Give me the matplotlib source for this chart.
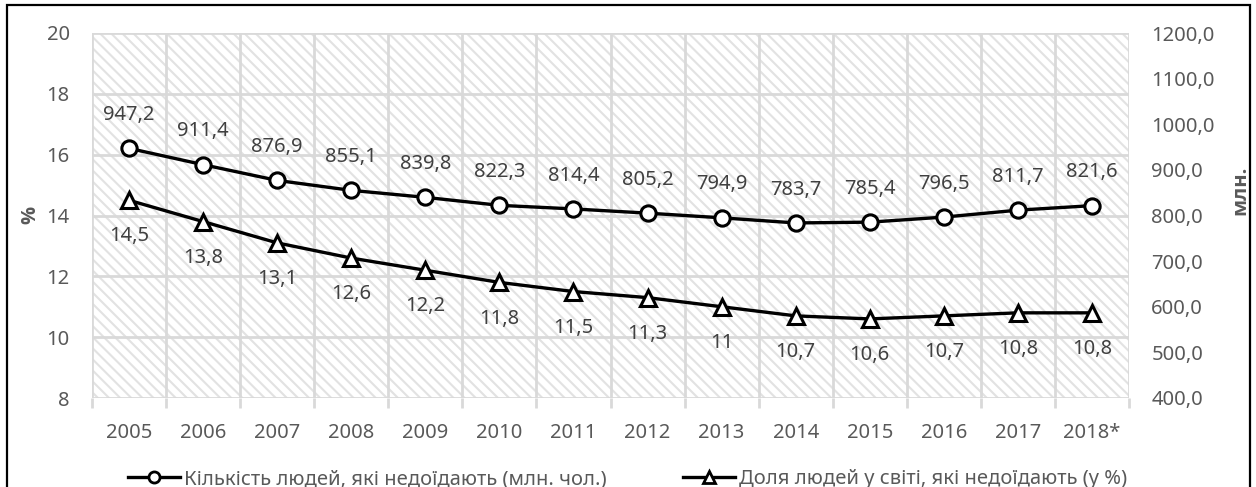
import matplotlib.pyplot as plt
from matplotlib.patches import Rectangle
from matplotlib.lines import Line2D

plt.rcParams['font.family'] = ['Noto Sans', 'DejaVu Sans']

# Data
years = ['2005', '2006', '2007', '2008', '2009', '2010', '2011',
         '2012', '2013', '2014', '2015', '2016', '2017', '2018*']
people_mln = [947.2, 911.4, 876.9, 855.1, 839.8, 822.3, 814.4,
              805.2, 794.9, 783.7, 785.4, 796.5, 811.7, 821.6]
share_pct = [14.5, 13.8, 13.1, 12.6, 12.2, 11.8, 11.5,
             11.3, 11.0, 10.7, 10.6, 10.7, 10.8, 10.8]
pct_ticks = [8, 10, 12, 14, 16, 18, 20]
mln_ticks = [400, 500, 600, 700, 800, 900, 1000, 1100, 1200]
label_people = 'Кількість людей, які недоїдають (млн. чол.)'
label_share = 'Доля людей у світі, які недоїдають (у %)'

W, H = 1256, 487
text_col = '#595959'
grid_col = '#d9d9d9'
fs = 14.5

fig = plt.figure(figsize=(W / 100, H / 100), dpi=100)
ax = fig.add_axes([92 / W, 1 - 398 / H, (1129 - 92) / W, (398 - 33) / H])
ax2 = ax.twinx()

x = list(range(len(years)))

# hatched background
plt.rcParams['hatch.linewidth'] = 1.5
bg = Rectangle((0, 0), 1, 1, transform=ax.transAxes, facecolor='white',
               edgecolor='#e2e2e2', hatch='\\\\\\', linewidth=0, zorder=0)
ax.add_patch(bg)

ax.set_xlim(-0.5, len(years) - 0.5)
ax.set_ylim(8, 20)
ax2.set_ylim(400, 1200)

ax.set_yticks(pct_ticks)
ax.set_yticklabels([str(t) for t in pct_ticks])
ax2.set_yticks(mln_ticks)
ax2.set_yticklabels([f'{t:.1f}'.replace('.', ',') for t in mln_ticks])
ax.set_xticks(x)
ax.set_xticklabels(years)
ax.set_xticks([i - 0.5 for i in range(len(years) + 1)], minor=True)

ax.tick_params(axis='x', which='major', length=0, pad=18, labelsize=fs, labelcolor=text_col)
ax.tick_params(axis='x', which='minor', length=7, width=2, color=grid_col)
ax.tick_params(axis='y', length=0, pad=16, labelsize=fs, labelcolor=text_col)
ax2.tick_params(axis='y', length=0, pad=16, labelsize=fs, labelcolor=text_col)

ax.grid(True, axis='y', which='major', color=grid_col, linewidth=2, zorder=1)
ax.grid(True, axis='x', which='minor', color=grid_col, linewidth=2, zorder=1)
ax.set_axisbelow(True)
for a in (ax, ax2):
    for s in a.spines.values():
        s.set_visible(False)

# series
ax.plot(x, share_pct, color='black', linewidth=2.4, marker='^', markersize=11,
        markerfacecolor='white', markeredgecolor='black', markeredgewidth=2.2, zorder=5)
ax2.plot(x, people_mln, color='black', linewidth=2.4, marker='o', markersize=11,
         markerfacecolor='white', markeredgecolor='black', markeredgewidth=2.2, zorder=5)

for xi, v in zip(x, people_mln):
    ax2.annotate(f'{v:g}'.replace('.', ','), (xi, v), xytext=(0, 24),
                 textcoords='offset points', ha='center', va='center',
                 fontsize=fs, color='#404040')
for xi, v in zip(x, share_pct):
    ax.annotate(f'{v:g}'.replace('.', ','), (xi, v), xytext=(0, -26),
                textcoords='offset points', ha='center', va='center',
                fontsize=fs, color='#404040')

# axis titles
fig.text(30 / W, 1 - 215 / H, '%', rotation=90, ha='center', va='center',
         fontsize=fs, color=text_col, fontweight='bold', family='Open Sans')
fig.text(1240 / W, 1 - 190 / H, 'млн.', rotation=90, ha='center', va='center',
         fontsize=fs, color=text_col, fontweight='bold', family='Open Sans')

# legend
h1 = Line2D([], [], color='black', linewidth=2.4, marker='o', markersize=8,
            markerfacecolor='white', markeredgecolor='black', markeredgewidth=2)
h2 = Line2D([], [], color='black', linewidth=2.4, marker='^', markersize=8,
            markerfacecolor='white', markeredgecolor='black', markeredgewidth=2)
for h, lab, x0 in [(h1, label_people, 128), (h2, label_share, 683)]:
    fig.legend([h], [lab], loc='center left', bbox_to_anchor=(x0 / W, 1 - 479 / H),
               frameon=False, handlelength=2.6, handletextpad=0.2, borderpad=0,
               borderaxespad=0, prop={'size': fs}, labelcolor=text_col)

# outer frame
fig.add_artist(Rectangle((7 / W, -0.2), (1250 - 7) / W, 1.2 - 5 / H,
                         transform=fig.transFigure, fill=False,
                         edgecolor='black', linewidth=1.6))

fig.savefig('out.png', dpi=100)
